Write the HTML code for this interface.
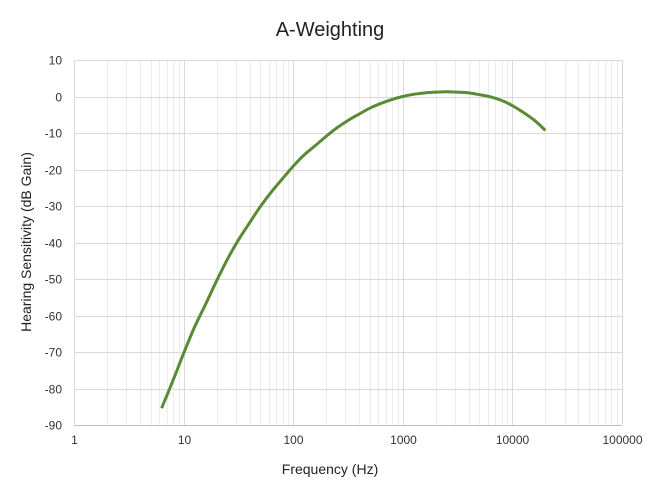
<!DOCTYPE html>
<html><head><meta charset="utf-8"><style>
body{margin:0;background:#fff;}
svg{display:block;font-family:"Liberation Sans",Calibri,sans-serif;}
</style></head><body>
<svg id="chart" width="660" height="496">
<rect width="660" height="496" fill="#fff"/>
<text x="330" y="36" text-anchor="middle" font-size="20" fill="#222">A-Weighting</text>
<g id="grid"></g>
<g id="yticks"></g>
<g id="xticks"></g>
<path id="curve" fill="none" stroke="#5a8a35" stroke-width="3" stroke-linejoin="round"/>
<text x="330" y="474" text-anchor="middle" font-size="14" fill="#222">Frequency (Hz)</text>
<text transform="translate(31,242) rotate(-90)" text-anchor="middle" font-size="14" fill="#222">Hearing Sensitivity (dB Gain)</text>
</svg>
<script>
const freqs=[6.3,8,10,12.5,16,20,25,31.5,40,50,63,80,100,125,160,200,250,315,400,500,630,800,1000,1250,1600,2000,2500,3150,4000,5000,6300,8000,10000,12500,16000,20000];
const gains=[-85.4,-77.8,-70.4,-63.4,-56.7,-50.5,-44.7,-39.4,-34.6,-30.2,-26.2,-22.5,-19.1,-16.1,-13.4,-10.9,-8.6,-6.6,-4.8,-3.2,-1.9,-0.8,0,0.6,1.0,1.2,1.3,1.2,1.0,0.5,-0.1,-1.1,-2.5,-4.3,-6.6,-9.3];
const yTicks=[10,0,-10,-20,-30,-40,-50,-60,-70,-80,-90];
const xTicks=[1,10,100,1000,10000,100000];
const X0=74,X1=622,Y0=60,Y1=425;
const xs=f=>X0+(Math.log10(f)-0)/5*(X1-X0);
const ys=v=>Y0+(10-v)/100*(Y1-Y0);
const NS="http://www.w3.org/2000/svg";
const grid=document.getElementById('grid');
function line(p,x1,y1,x2,y2,c){const l=document.createElementNS(NS,'line');l.setAttribute('x1',x1);l.setAttribute('y1',y1);l.setAttribute('x2',x2);l.setAttribute('y2',y2);l.setAttribute('stroke',c);l.setAttribute('stroke-width',1);p.appendChild(l);return l;}
for(let d=0;d<5;d++)for(let m=2;m<=9;m++){const x=Math.round(xs(m*Math.pow(10,d)))+0.5;const l=line(grid,x,Y0,x,Y1,'#ececec');

}
yTicks.forEach(v=>{const y=Math.round(ys(v))+0.5;const l=line(grid,X0,y,X1,y,'#d9d9d9');


const t=document.createElementNS(NS,'text');t.setAttribute('x',X0-12);t.setAttribute('y',y+4);t.setAttribute('text-anchor','end');t.setAttribute('font-size','12');t.setAttribute('fill','#333');t.textContent=v;


document.getElementById('yticks').appendChild(t);});
xTicks.forEach(f=>{const x=Math.round(xs(f))+0.5;const l=line(grid,x,Y0,x,Y1,'#d9d9d9');


const t=document.createElementNS(NS,'text');t.setAttribute('x',x);t.setAttribute('y',Y1+19);t.setAttribute('text-anchor','middle');t.setAttribute('font-size','12');t.setAttribute('fill','#333');t.textContent=f;


document.getElementById('xticks').appendChild(t);});
const ax=line(grid,X0,Y1+0.5,X1,Y1+0.5,'#bfbfbf');


// smooth path via Catmull-Rom
const pts=freqs.map((f,i)=>[xs(f),ys(gains[i])]);
let d='M'+pts[0][0].toFixed(2)+','+pts[0][1].toFixed(2);
for(let i=0;i<pts.length-1;i++){const p0=pts[i-1]||pts[i],p1=pts[i],p2=pts[i+1],p3=pts[i+2]||p2;
const c1=[p1[0]+(p2[0]-p0[0])/6,p1[1]+(p2[1]-p0[1])/6],c2=[p2[0]-(p3[0]-p1[0])/6,p2[1]-(p3[1]-p1[1])/6];
d+=`C${c1[0].toFixed(2)},${c1[1].toFixed(2)} ${c2[0].toFixed(2)},${c2[1].toFixed(2)} ${p2[0].toFixed(2)},${p2[1].toFixed(2)}`;}
document.getElementById('curve').setAttribute('d',d);
</script>
</body></html>
